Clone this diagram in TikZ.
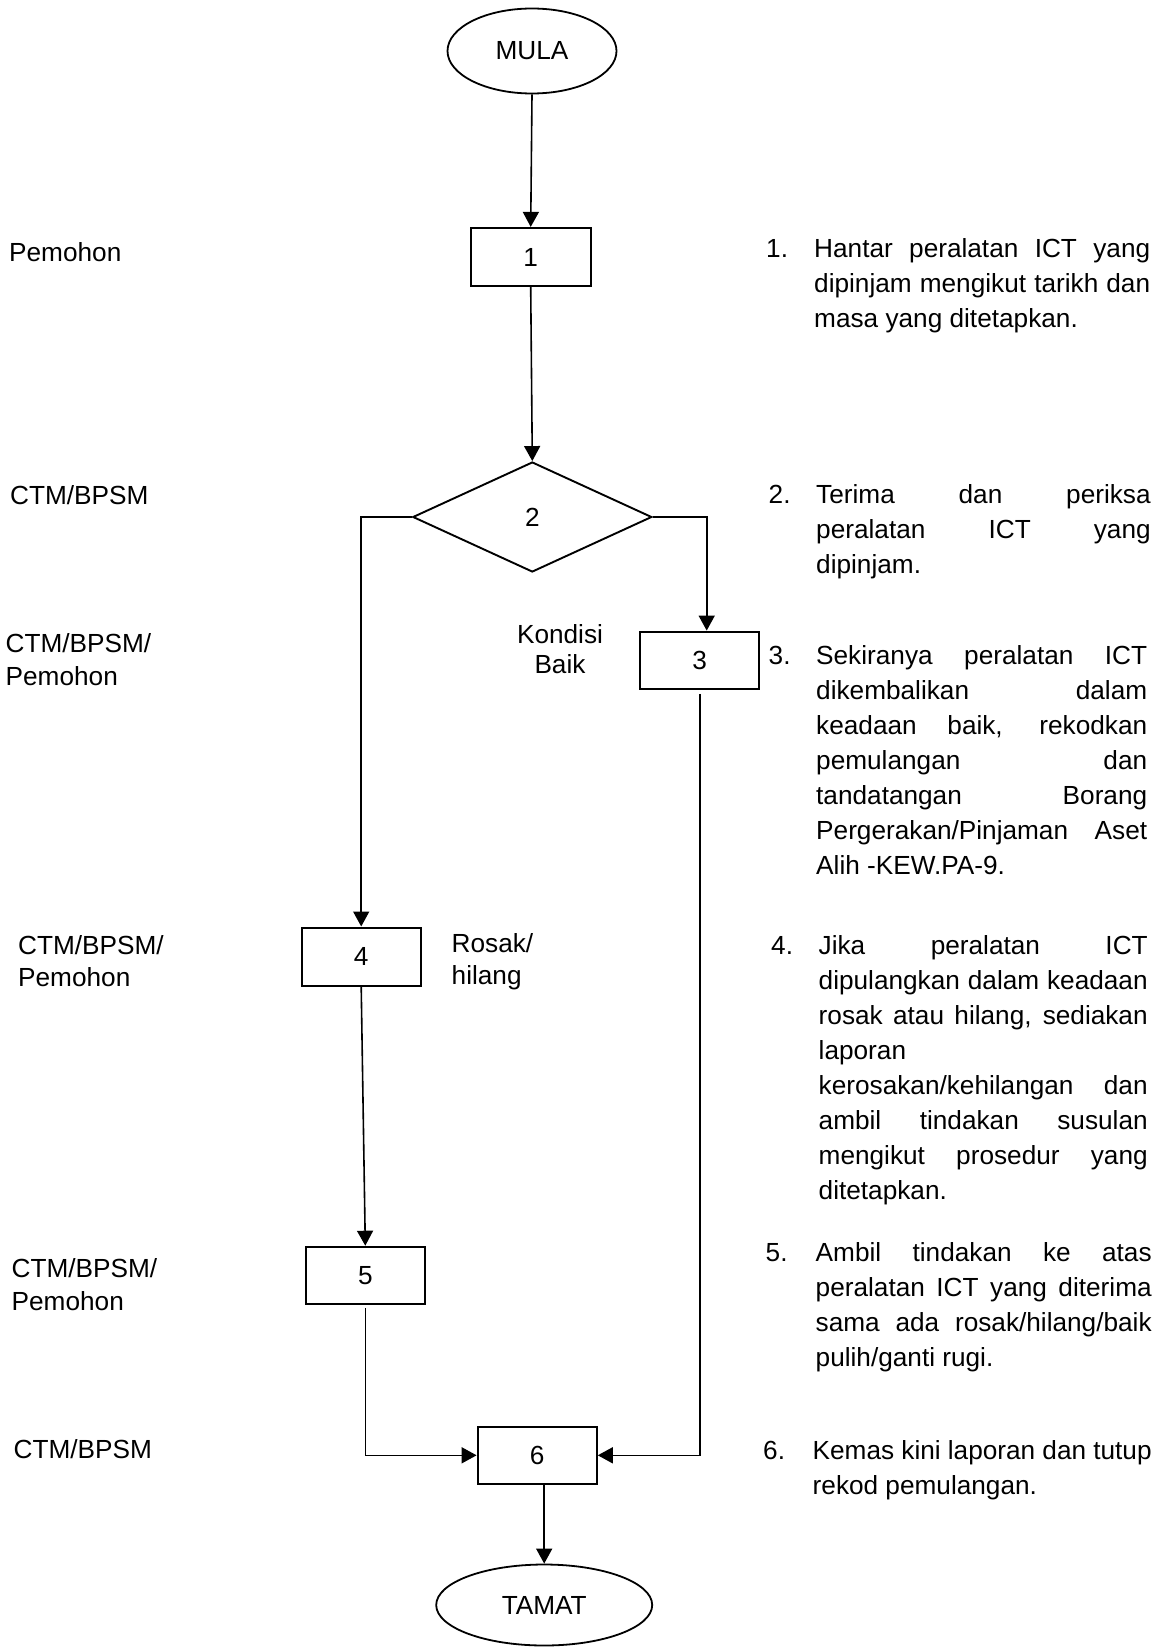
\documentclass[tikz,border=0pt]{standalone}
\usepackage{fontspec}
\setmainfont{Liberation Sans}
\usetikzlibrary{shapes.geometric,arrows.meta}

% one justified line of a step description
\newcommand\jl[1]{\makebox[\linewidth][s]{#1}\\}
% numbered description: indent, number, text width, lines
\newcommand\numtxt[4]{\makebox[#1][l]{#2}\parbox[t]{#3}{#4}}

\begin{document}
\begin{tikzpicture}[x=1pt,y=-1pt,
  every node/.style={inner sep=0pt},
  lbl/.style={anchor=base west, font=\fontsize{26.2}{32.5}\selectfont},
  item/.style={anchor=base west, font=\fontsize{26.2}{35}\selectfont},
  proc/.style={draw, line width=2.2pt, minimum width=119pt, minimum height=57pt,
               font=\fontsize{26.2}{30}\selectfont},
  term/.style={ellipse, draw, line width=1.8pt, font=\fontsize{26.2}{30}\selectfont},
  dec/.style={diamond, draw, line width=1.9pt, minimum width=239pt, minimum height=110pt,
              font=\fontsize{26.2}{30}\selectfont},
  flow/.style={line width=1.6pt, -{Triangle[width=16pt,length=15pt]}}
]
\useasboundingbox[fill=white] (0,0) rectangle (1163,1648);

% flow chart shapes
\node[term, minimum width=169pt, minimum height=85pt] (mula) at (532,51) {MULA};
\node[proc, minimum width=120pt, minimum height=58pt] (b1) at (530.7,257) {1};
\node[dec] (d2) at (532.3,517) {2};
\node[proc] (b3) at (699.7,660.2) {3};
\node[proc, minimum height=58pt] (b4) at (361.2,956.6) {4};
\node[proc] (b5) at (365.3,1275.3) {5};
\node[proc] (b6) at (537.2,1455.3) {6};
\node[term, minimum width=216pt, minimum height=81pt] (tamat) at (544.2,1605) {TAMAT};

% branch labels
\node[anchor=base, font=\fontsize{26.2}{30}\selectfont] (kb) at (560,643.5)
  {\parbox[t]{150pt}{\centering Kondisi\\Baik}};
\node[anchor=base west, font=\fontsize{26.2}{32}\selectfont] (rh) at (451.5,952.8)
  {\parbox[t]{150pt}{Rosak/\\hilang}};

% connectors
\coordinate (r3) at (706.7,517);
\draw[flow] (mula.south) -- (b1.north);
\draw[flow] (b1.south) -- (d2.north);
\draw[flow] (d2.west) -| (b4.north);
\draw[flow] (d2.east) -- (r3) -- (r3 |- b3.north);
\draw[flow, shorten <=4pt] (b3.south) |- (b6.east);
\draw[flow] (b4.south) -- (b5.north);
\draw[flow, shorten <=3pt] (b5.south) |- (b6.west);
\draw[flow] (tamat.north |- b6.south) -- (tamat.north);

% responsible parties
\node[lbl] (p1) at (9,261.5) {Pemohon};
\node[lbl] (p2) at (10,504.3) {CTM/BPSM};
\node[lbl] (p3) at (5.5,652.5) {\parbox[t]{200pt}{CTM/BPSM/\\Pemohon}};
\node[lbl] (p4) at (18,954) {\parbox[t]{200pt}{CTM/BPSM/\\Pemohon}};
\node[lbl] (p5) at (11.5,1277.5) {\parbox[t]{200pt}{CTM/BPSM/\\Pemohon}};
\node[lbl] (p6) at (13.5,1458.2) {CTM/BPSM};

% step descriptions
\node[item] (s1) at (766,257) {\numtxt{48pt}{1.}{336pt}{%
  \jl{Hantar peralatan ICT yang}
  \jl{dipinjam mengikut tarikh dan}
  masa yang ditetapkan.}};
\node[item] (s2) at (768.5,503.5) {\numtxt{47.5pt}{2.}{334.5pt}{%
  \jl{Terima dan periksa}
  \jl{peralatan ICT yang}
  dipinjam.}};
\node[item] (s3) at (768.5,664.5) {\numtxt{47.5pt}{3.}{331pt}{%
  \jl{Sekiranya peralatan ICT}
  \jl{dikembalikan dalam}
  \jl{keadaan baik, rekodkan}
  \jl{pemulangan dan}
  \jl{tandatangan Borang}
  \jl{Pergerakan/Pinjaman Aset}
  Alih -KEW.PA-9.}};
\node[item] (s4) at (771,954.5) {\numtxt{47.5pt}{4.}{329pt}{%
  \jl{Jika peralatan ICT}
  \jl{dipulangkan dalam keadaan}
  \jl{rosak atau hilang, sediakan}
  laporan\\
  \jl{kerosakan/kehilangan dan}
  \jl{ambil tindakan susulan}
  \jl{mengikut prosedur yang}
  ditetapkan.}};
\node[item] (s5) at (765.5,1261.7) {\numtxt{50pt}{5.}{336pt}{%
  \jl{Ambil tindakan ke atas}
  \jl{peralatan ICT yang diterima}
  \jl{sama ada rosak/hilang/baik}
  pulih/ganti rugi.}};
\node[item] (s6) at (763,1459) {\numtxt{49.5pt}{6.}{339pt}{%
  \jl{Kemas kini laporan dan tutup}
  rekod pemulangan.}};
\end{tikzpicture}
\end{document}
